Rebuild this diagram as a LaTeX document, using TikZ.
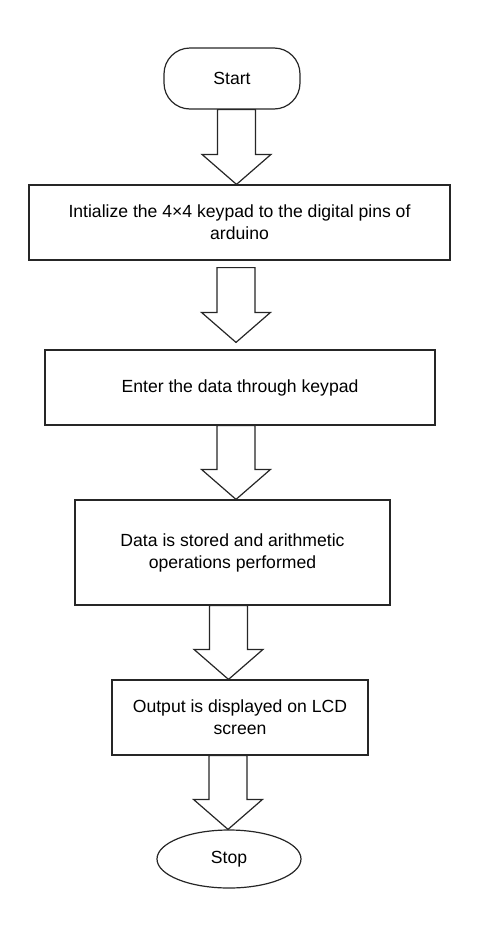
\documentclass[tikz,border=0pt]{standalone}
\usepackage{fontspec}
\setmainfont{Liberation Sans}
\usetikzlibrary{calc,shapes.geometric}

\tikzset{
  box/.style={draw=black!85, line width=1.2pt, minimum height=75pt, inner sep=0pt,
              align=center, font=\fontsize{17.6}{22}\selectfont},
  term/.style={box, rounded corners=26pt},
  blockarr/.style={draw=black!85, line width=1.2pt, fill=white, line join=miter}
}

% block arrow: from node, to node, x of the arrow, gap at both ends
\newcommand{\blockarrow}[4]{%
  \draw[blockarr] let \p1=(#1.south), \p2=(#2.north) in
    (#3pt-19pt,\y1-#4pt) -- (#3pt+19pt,\y1-#4pt) -- (#3pt+19pt,\y2+#4pt+30pt)
    -- (#3pt+34.5pt,\y2+#4pt+30pt) -- (#3pt,\y2+#4pt) -- (#3pt-34.5pt,\y2+#4pt+30pt)
    -- (#3pt-19pt,\y2+#4pt+30pt) -- cycle;
}

\begin{document}
\begin{tikzpicture}[x=1pt, y=-1pt]
 \useasboundingbox (0,0) rectangle (500,940);

 %terminals
 \node[term, minimum width=136pt, minimum height=61pt] (start) at (232,78.5) {Start};
 \node[box, ellipse, minimum width=144pt, minimum height=58pt] (stop) at (229,859) {Stop};

 %steps
 \node[box, minimum width=421pt] (init) at (239.5,222.5)
      {Intialize the 4×4 keypad to the digital pins of\\arduino};
 \node[box, minimum width=390pt] (enter) at (240,387.5) {Enter the data through keypad};
 \node[box, minimum width=315pt, minimum height=105pt] (store) at (232.5,552.5)
      {Data is stored and arithmetic\\operations performed};
 \node[box, minimum width=256pt] (output) at (240,717.5) {Output is displayed on LCD\\screen};

 %arrows
 \blockarrow{start}{init}{236.5}{0}
 \blockarrow{init}{enter}{236}{7}
 \blockarrow{enter}{store}{236}{0}
 \blockarrow{store}{output}{228.5}{0}
 \blockarrow{output}{stop}{228}{0}

\end{tikzpicture}
\end{document}
